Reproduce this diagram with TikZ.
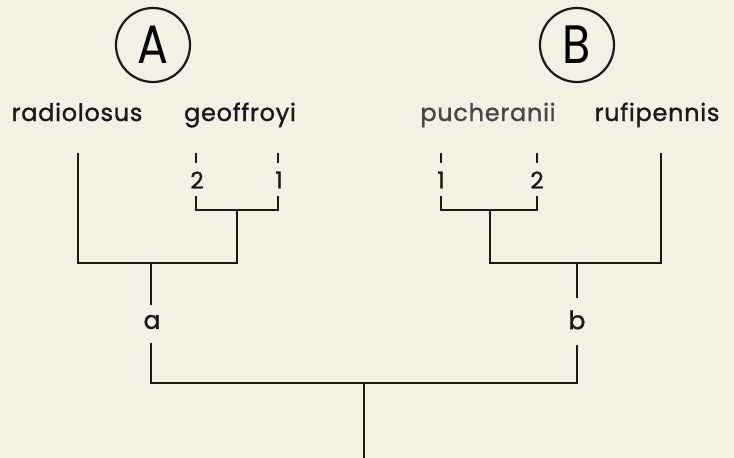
\documentclass[tikz,border=0pt]{standalone}
\usepackage{fontspec}
\setmainfont{Poppins}
\newfontfamily\labfont{Poppins}[FakeBold=1.2, LetterSpace=3]
\begin{document}
\begin{tikzpicture}[x=1pt,y=-1pt,
  ln/.style={line width=2.9pt, line join=miter, draw=black!90},
  tick/.style={line width=2.5pt, draw=black!90},
  lab/.style={anchor=base, inner sep=0pt, font=\labfont\fontsize{24}{24}\selectfont, text=black!90},
  num/.style={inner sep=0pt, font=\labfont\fontsize{23}{23}\selectfont, text=black!90},
  ab/.style={inner sep=0pt, font=\labfont\fontsize{25}{25}\selectfont, text=black!90},
  grp/.style={circle, draw=black!90, line width=2.2pt, minimum size=74pt, inner sep=0pt, font=\fontsize{54}{54}\selectfont}]
\fill[fill={rgb,255:red,243;green,240;blue,228}] (0,0) rectangle (734,458);
\useasboundingbox (0,0) rectangle (734,458);
% group circles
\node[grp] (A) at (153,45) {\scalebox{0.85}[1]{A}};
\node[grp] (B) at (577,45) {\scalebox{0.85}[1]{B}};
% taxon labels
\node[lab] (rad) at (77,121) {radiolosus};
\node[lab] (geo) at (240,121) {geoffroyi};
\node[lab, text=black!72] (puc) at (488,121) {pucheranii};
\node[lab] (ruf) at (657,121) {rufipennis};
% numbers
\node[num] (g2) at (197,180) {2};
\node[num] (g1) at (279,180) {1};
\node[num] (p1) at (441,180) {1};
\node[num] (p2) at (537,180) {2};
% coordinates
\coordinate (rT) at (78,153);
\coordinate (rB) at (78,263);
\coordinate (g2T) at (196,153); \coordinate (g2U) at (196,163);
\coordinate (g1T) at (278,153); \coordinate (g1U) at (278,163);
\coordinate (g2L) at (196,196); \coordinate (g1L) at (278,196);
\coordinate (gJ) at (237,210);
\coordinate (gJB) at (237,263);
\coordinate (p1T) at (441,153); \coordinate (p1U) at (441,163);
\coordinate (p2T) at (537,153); \coordinate (p2U) at (537,163);
\coordinate (p1L) at (441,196); \coordinate (p2L) at (537,196);
\coordinate (pJ) at (490,210);
\coordinate (pJB) at (490,263);
\coordinate (fT) at (661,153);
\coordinate (fB) at (661,263);
\coordinate (aT) at (151,263);
\coordinate (bT) at (577,263);
\coordinate (aB) at (151,383);
\coordinate (bB) at (577,383);
\coordinate (root) at (364,383);
\coordinate (rootB) at (364,460);
% branch labels
\node[ab] (a) at (152,322) {a};
\node[ab] (b) at (577,320) {b};
% ticks
\draw[tick] (g2T) -- (g2U);
\draw[tick] (g1T) -- (g1U);
\draw[tick] (p1T) -- (p1U);
\draw[tick] (p2T) -- (p2U);
% small brackets
\draw[ln] (g2L) -- (g2L |- gJ) -- (g1L |- gJ) -- (g1L);
\draw[ln] (gJ) -- (gJB);
\draw[ln] (p1L) -- (p1L |- pJ) -- (p2L |- pJ) -- (p2L);
\draw[ln] (pJ) -- (pJB);
% group brackets
\draw[ln] (rT) -- (rB) -- (gJB) -- ++(0,-1.45);
\draw[ln] (fT) -- (fB) -- (pJB) -- ++(0,-1.45);
\draw[ln] (aT) -- (151,305);
\draw[ln] (bT) -- (577,298);
\draw[ln] (151,343) -- (aB) -- (bB) -- (577,345);
\draw[ln] (root) -- (rootB);
\end{tikzpicture}
\end{document}
